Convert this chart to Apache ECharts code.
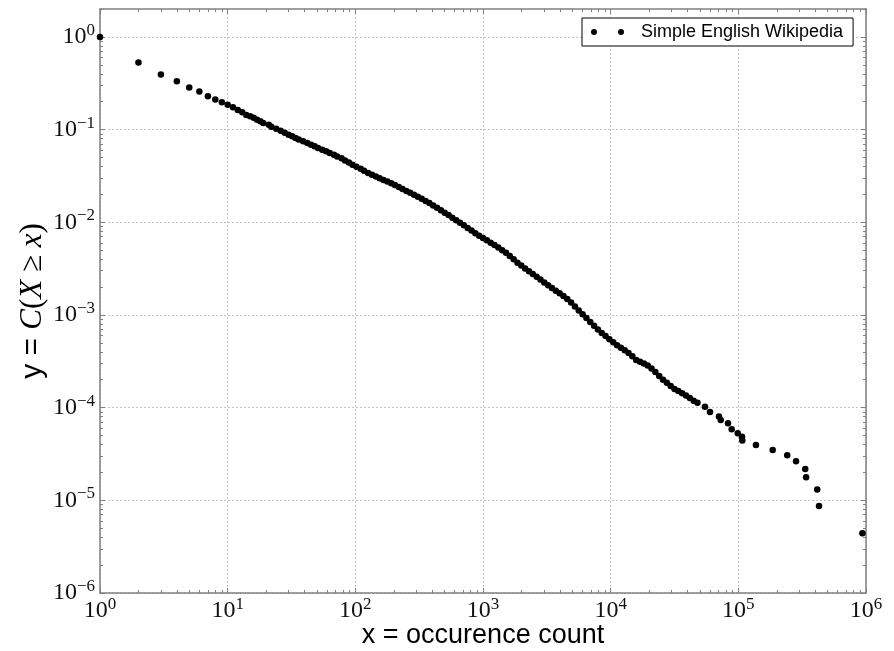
<!DOCTYPE html>
<html>
<head>
<meta charset="utf-8">
<script src="https://cdn.jsdelivr.net/npm/echarts@6/dist/echarts.min.js"></script>
<style>
  html, body { margin: 0; padding: 0; background: #fff; }
  #chart { width: 894px; height: 651px; }
</style>
</head>
<body>
<div id="chart"></div>
<script>
// occurrence counts (x) and complementary cumulative fraction C(X >= x) (y)
var counts = [
  1, 2, 3, 4, 5, 6, 7, 8, 9, 10, 11, 12, 13, 14, 15, 16,
  17, 18, 19, 21, 22, 24, 26, 28, 30, 32, 34, 36, 39, 42, 45, 48, 51, 55, 59, 63,
  68, 72, 78, 83, 89, 95, 102, 110, 117, 126, 135, 145, 155, 166, 178, 191, 204, 219,
  234, 251, 269, 288, 309, 331, 355, 380, 407, 437, 468, 501, 537, 575, 617, 661,
  708, 759, 813, 871, 933, 1000, 1072, 1148, 1230, 1318, 1413, 1514, 1622, 1738,
  1862, 1995, 2138, 2291, 2455, 2630, 2818, 3020, 3236, 3467, 3715, 3981, 4266,
  4571, 4898, 5248, 5623, 6026, 6457, 6918, 7413, 7943, 8511, 9120, 9772, 10471,
  11220, 12023, 12882, 13804, 14791, 15849, 16982, 18197, 19498, 20893, 22387,
  23988, 25704, 27542, 29512, 31623, 33884, 36308, 38905, 41687, 44668, 47863,
  54800, 60000, 70500, 72800, 83000, 88700, 98900, 106900, 107400, 137400,
  185800, 241500, 283100, 334200, 339600, 415000, 428500, 937600
];
var ccdf = [
  1, 0.531, 0.392, 0.333, 0.284, 0.257, 0.229, 0.211, 0.197, 0.185, 0.174, 0.163, 0.154, 0.144, 0.139, 0.134,
  0.128, 0.123, 0.118, 0.113, 0.107, 0.102, 0.0973, 0.0925, 0.0881, 0.0847, 0.0813, 0.0782, 0.0750, 0.0718, 0.0687, 0.0659, 0.0632, 0.0607, 0.0583, 0.0558,
  0.0536, 0.0513, 0.0490, 0.0465, 0.0441, 0.0418, 0.0397, 0.0378, 0.0359, 0.0341, 0.0326, 0.0312, 0.0299, 0.0286, 0.0275, 0.0264, 0.0252, 0.0240,
  0.0229, 0.0218, 0.0208, 0.0198, 0.0188, 0.0179, 0.0170, 0.0161, 0.0152, 0.0143, 0.0135, 0.0127, 0.0120, 0.0112, 0.0105, 0.00991,
  0.00927, 0.00869, 0.00813, 0.00762, 0.00716, 0.00676, 0.00638, 0.00603, 0.00569, 0.00533, 0.00500, 0.00470, 0.00433, 0.00398,
  0.00366, 0.00341, 0.00318, 0.00297, 0.00277, 0.00258, 0.00241, 0.00224, 0.00209, 0.00195, 0.00183, 0.00171, 0.00160,
  0.00149, 0.00136, 0.00123, 0.00112, 0.00102, 0.000927, 0.000841, 0.000766, 0.000695, 0.000638, 0.000592, 0.000548, 0.000508,
  0.000471, 0.000443, 0.000415, 0.000389, 0.000359, 0.000327, 0.000312, 0.000299, 0.000284, 0.000264, 0.000243,
  0.000220, 0.000200, 0.000185, 0.000171, 0.000159, 0.000151, 0.000143, 0.000135, 0.000127, 0.000119, 0.000113,
  1.02e-4, 8.97e-5, 8.0e-5, 7.36e-5, 6.78e-5, 5.85e-5, 5.30e-5, 4.86e-5, 4.43e-5, 3.95e-5,
  3.49e-5, 3.06e-5, 2.64e-5, 2.18e-5, 1.77e-5, 1.31e-5, 8.69e-6, 4.41e-6
];
var xMajor = [1, 10, 100, 1000, 10000, 100000, 1000000];
var yMajor = [1e-6, 1e-5, 1e-4, 1e-3, 1e-2, 1e-1, 1];
var seriesName = 'Simple English Wikipedia';

var frame = '#808080';
var ink = '#111';

// matplotlib-style log minor ticks at 2..9 of each decade
function minorTicks(lo, hi) {
  var out = [];
  for (var e = lo; e < hi; e++) {
    for (var m = 2; m < 10; m++) out.push(+(m * Math.pow(10, e)).toPrecision(6));
  }
  return out;
}

function expLabel(v) {
  var e = Math.round(Math.log(v) / Math.LN10);
  return '{b|10}{e|' + String(e).replace('-', '\u2212') + '}';
}
var labelRich = {
  b: { fontFamily: 'Liberation Serif', fontSize: 24, lineHeight: 30, color: ink },
  e: { fontFamily: 'Liberation Serif', fontSize: 17, lineHeight: 17, verticalAlign: 'top', color: ink }
};

function logAxis(dim, pos, ticks, len, main) {
  return {
    type: 'log', logBase: 10, position: pos, gridIndex: 0,
    min: dim === 'x' ? 1 : 1e-6,
    max: dim === 'x' ? 1e6 : 2,
    axisLine: { show: main, onZero: false, lineStyle: { color: frame, width: 1.5 } },
    axisTick: { show: true, inside: true, length: len, customValues: ticks, lineStyle: { color: frame, width: 1 } },
    axisLabel: { show: false },
    splitLine: { show: false },
    minorTick: { show: false },
    minorSplitLine: { show: false }
  };
}

var xBottom = logAxis('x', 'bottom', xMajor, 5, true);
xBottom.axisLabel = {
  show: true, customValues: xMajor, margin: 3, formatter: expLabel, rich: labelRich
};
xBottom.splitLine = { show: true, lineStyle: { color: '#c4c4c4', width: 1, type: [2, 2] } };
xBottom.name = 'x = occurence count';
xBottom.nameLocation = 'middle';
xBottom.nameMoveOverlap = false;
xBottom.nameGap = 29;
xBottom.nameTextStyle = { fontFamily: 'Liberation Sans', fontSize: 27, color: '#000' };

var yLeft = logAxis('y', 'left', yMajor, 5, true);
yLeft.axisLabel = {
  show: true, customValues: yMajor, margin: 5, formatter: expLabel, rich: labelRich
};
yLeft.splitLine = { show: true, lineStyle: { color: '#c4c4c4', width: 1, type: [2, 2] } };
yLeft.name = '{s|y = }{m|C}{r|(}{m|X}{r| \u2265 }{m|x}{r|)}';
yLeft.nameLocation = 'middle';
yLeft.nameRotate = 90;
yLeft.nameMoveOverlap = false;
yLeft.nameGap = 52;
yLeft.nameTextStyle = {
  color: '#000',
  rich: {
    s: { fontFamily: 'Liberation Sans', fontSize: 30, color: '#000' },
    m: { fontFamily: 'Liberation Serif', fontStyle: 'italic', fontSize: 31, color: '#000' },
    r: { fontFamily: 'Liberation Serif', fontSize: 31, color: '#000' }
  }
};

var chart = echarts.init(document.getElementById('chart'), null, { renderer: 'canvas' });
chart.setOption({
  animation: false,
  backgroundColor: '#fff',
  grid: { left: 100, right: 28, top: 9, bottom: 58, containLabel: false, outerBoundsMode: 'none' },
  xAxis: [
    xBottom,
    logAxis('x', 'top', xMajor, 5, true),
    logAxis('x', 'bottom', minorTicks(0, 6), 3, false),
    logAxis('x', 'top', minorTicks(0, 6), 3, false)
  ],
  yAxis: [
    yLeft,
    logAxis('y', 'right', yMajor, 5, true),
    logAxis('y', 'left', minorTicks(-6, 1), 3, false),
    logAxis('y', 'right', minorTicks(-6, 1), 3, false)
  ],
  legend: {
    data: [seriesName],
    left: 582, top: 18,
    padding: [5, 10, 5, 9],
    borderColor: '#000', borderWidth: 1, borderRadius: 0,
    backgroundColor: '#fff',
    icon: 'circle', itemWidth: 6, itemHeight: 6,
    selectedMode: false,
    formatter: function(name) { return '{s1| }{d| }{s2| }{t|' + name + '}'; },
    textStyle: {
      rich: {
        s1: { width: 16 },
        d: { width: 6, height: 6, backgroundColor: '#000', borderRadius: 3 },
        s2: { width: 17 },
        t: { fontFamily: 'Liberation Sans', fontSize: 18, color: '#000' }
      }
    }
  },
  series: [{
    name: seriesName,
    type: 'scatter',
    xAxisIndex: 0, yAxisIndex: 0,
    symbol: 'circle',
    symbolSize: 6.5,
    itemStyle: { color: '#000', opacity: 1 },
    data: counts.map(function(c, i) { return [c, ccdf[i]]; })
  }]
});
window.addEventListener('resize', function() { chart.resize(); });
</script>
</body>
</html>
